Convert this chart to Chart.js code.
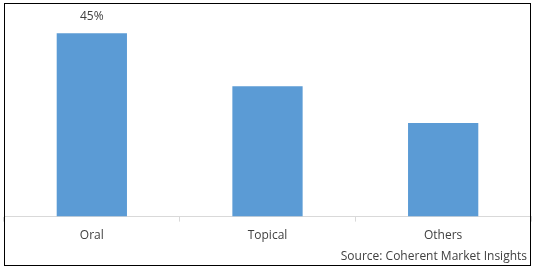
<!DOCTYPE html>
<html><head><meta charset="utf-8">
<script src="https://cdn.jsdelivr.net/npm/chart.js@4/dist/chart.umd.min.js"></script>
<style>
html,body{margin:0;padding:0;background:#fff;}
#wrap{position:absolute;left:0;top:0;width:538px;height:272px;}
#frame{position:absolute;left:4px;top:3px;width:525px;height:261px;border:1px solid #000;pointer-events:none;}
</style></head>
<body>
<div id="wrap"><canvas id="c" width="538" height="272"></canvas><div id="frame"></div></div>
<script>
const categories = ['Oral', 'Topical', 'Others'];
const shareValues = [45, 32, 23];
const valueLabels = ['45%', '', ''];
const sourceText = 'Source: Coherent Market Insights';

const labelPlugin = {
  id: 'valueLabels',
  afterDatasetsDraw(chart) {
    const ctx = chart.ctx;
    const meta = chart.getDatasetMeta(0);
    ctx.save();
    ctx.font = '12px "Open Sans", sans-serif';
    ctx.fillStyle = '#404040';
    ctx.textAlign = 'center';
    ctx.textBaseline = 'middle';
    meta.data.forEach((bar, i) => {
      if (valueLabels[i]) ctx.fillText(valueLabels[i], bar.x, bar.y - 17);
    });
    ctx.textAlign = 'right';
    ctx.fillText(sourceText, 527, 257);
    ctx.restore();
  }
};

new Chart(document.getElementById('c'), {
  type: 'bar',
  data: {
    labels: categories,
    datasets: [{
      data: shareValues,
      backgroundColor: '#5b9bd5',
      categoryPercentage: 1,
      barPercentage: 0.4
    }]
  },
  options: {
    responsive: false,
    animation: false,
    layout: { padding: { left: 4, right: 7, top: 13, bottom: 22 } },
    plugins: {
      legend: { display: false },
      tooltip: { enabled: false },
      title: { display: false }
    },
    scales: {
      x: {
        offset: true,
        grid: { display: true, drawOnChartArea: false, drawTicks: true, tickLength: 5, color: '#d9d9d9', offset: true },
        border: { display: true, color: '#d9d9d9' },
        ticks: { color: '#404040', padding: 7, font: { family: '"Open Sans", sans-serif', size: 12 } }
      },
      y: {
        display: false,
        min: 0,
        max: 50
      }
    }
  },
  plugins: [labelPlugin]
});
</script>
</body></html>
